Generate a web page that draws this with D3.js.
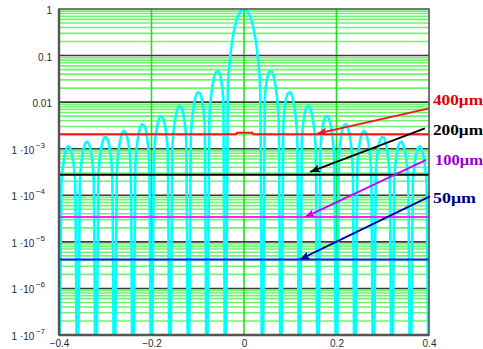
<!DOCTYPE html>
<html>
<head>
<meta charset="utf-8">
<script src="https://cdn.jsdelivr.net/npm/d3@7"></script>
<style>
  html, body { margin: 0; padding: 0; background: #fff; }
  svg { display: block; }
</style>
</head>
<body>
<svg id="chart" width="483" height="349"></svg>
<script>
// Normalised diffraction intensity, sampled from the centre outwards (x = 0 … 0.4, step 0.005).
// The pattern is symmetric, so the left half is the mirror of this one.
const intensityStep = 0.005;
const intensityRight = [
  1, 0.95, 0.81, 0.62, 0.41, 0.22, 0.09, 0.019, 0,
  0.0117, 0.032, 0.046, 0.045, 0.033, 0.0165, 0.0042, 0,
  0.0033, 0.010, 0.0153, 0.0162, 0.0126, 0.0067, 0.0018, 0,
  0.0015, 0.0048, 0.0076, 0.0083, 0.0066, 0.0036, 0.00099, 0,
  0.00087, 0.0028, 0.0045, 0.0050, 0.0040, 0.00225, 0.00062, 0,
  0.00056, 0.00184, 0.0030, 0.00335, 0.00273, 0.00153, 0.00043, 0,
  0.0004, 0.0013, 0.0021, 0.0024, 0.00197, 0.00111, 0.00031, 0,
  0.00029, 0.00096, 0.00159, 0.0018, 0.00149, 0.00084, 0.00024, 0,
  0.000225, 0.00074, 0.00123, 0.0014, 0.00116, 0.00066, 0.00019, 0,
  0.00018, 0.00059, 0.00098, 0.00112, 0.00093, 0.00053, 0.00015, 0
];

// Threshold levels for the four aperture sizes
const levelNames  = ["400\u03bcm", "200\u03bcm", "100\u03bcm", "50\u03bcm"];
const levelValues = [2.05e-3, 2.75e-4, 3.4e-5, 4.2e-6];
// The 400 µm level rises slightly around the centre
const redLevelX = [-0.4, -0.017, -0.015, 0.018, 0.020, 0.4];
const redLevelY = [2.05e-3, 2.05e-3, 2.2e-3, 2.2e-3, 2.05e-3, 2.05e-3];

// Arrow callouts: tail near the label, tip on the level line
const arrowTailX = [0.398, 0.391, 0.394, 0.402];
const arrowTailY = [7.3e-3, 2.73e-3, 5.75e-4, 9.5e-5];
const arrowTipX  = [0.158, 0.143, 0.132, 0.121];
const arrowTipY  = [2.1e-3, 3.18e-4, 3.4e-5, 4.2e-6];
const labelBaselineY = [8.7e-3, 1.93e-3, 4.5e-4, 6.9e-5];

// Axis ticks
const xTickValues = [-0.4, -0.2, 0, 0.2, 0.4];
const xTickLabels = ["\u22120.4", "\u22120.2", "0", "0.2", "0.4"];
const yTickValues = [1, 0.1, 0.01, 1e-3, 1e-4, 1e-5, 1e-6, 1e-7];
const yTickBase   = ["1", "0.1", "0.01", "1 \u00b710", "1 \u00b710", "1 \u00b710", "1 \u00b710", "1 \u00b710"];
const yTickExp    = ["", "", "", "\u22123", "\u22124", "\u22125", "\u22126", "\u22127"];
const xGridValues = [-0.2, 0, 0.2];

// ---- styles ----
const levelLineColors  = ["#ff1010", "#000000", "#ff22ff", "#1a1aff"];
const arrowColors      = ["#ff1010", "#000000", "#cc00ff", "#0000b0"];
const labelColors      = ["#e00000", "#000000", "#9400d3", "#000080"];
const labelWidths      = [50, 50, 48, 43];
const labelOffsets     = [4, 4, 6, 4];

const width = 483, height = 349;
const margin = { top: 9, right: 54, bottom: 14, left: 59 };
const innerW = width - margin.left - margin.right;
const innerH = height - margin.top - margin.bottom;

const svg = d3.select("#chart");
svg.append("rect").attr("width", width).attr("height", height).attr("fill", "#fff");

const x = d3.scaleLinear().domain([-0.4, 0.4]).range([margin.left, margin.left + innerW]);
const y = d3.scaleLog().domain([1e-7, 1]).range([margin.top + innerH, margin.top]);

const defs = svg.append("defs");
defs.append("clipPath").attr("id", "plotClip")
  .append("rect")
  .attr("x", margin.left).attr("y", margin.top)
  .attr("width", innerW).attr("height", innerH);

arrowColors.forEach((c, i) => {
  defs.append("marker")
    .attr("id", "arrow" + i)
    .attr("markerUnits", "userSpaceOnUse")
    .attr("viewBox", "0 0 10 8")
    .attr("refX", 10).attr("refY", 4)
    .attr("markerWidth", 10).attr("markerHeight", 8)
    .attr("orient", "auto")
    .append("path")
    .attr("d", "M0,0 L10,4 L0,8 L2.5,4 Z")
    .attr("fill", c);
});

// ---- minor grid (2..9 × each decade) ----
const minorVals = [];
for (let k = -7; k < 0; k++) {
  for (let m = 2; m <= 9; m++) minorVals.push(m * Math.pow(10, k));
}
const grid = svg.append("g");
grid.selectAll("line.minor").data(minorVals).join("line")
  .attr("class", "minor")
  .attr("x1", margin.left).attr("x2", margin.left + innerW)
  .attr("y1", d => y(d)).attr("y2", d => y(d))
  .attr("stroke", "#6cf56c").attr("stroke-width", 1.6);

grid.selectAll("line.vgrid").data(xGridValues).join("line")
  .attr("class", "vgrid")
  .attr("x1", d => x(d)).attr("x2", d => x(d))
  .attr("y1", margin.top).attr("y2", margin.top + innerH)
  .attr("stroke", "#22e022").attr("stroke-width", 1.6);

// ---- decade lines ----
grid.selectAll("line.major").data(yTickValues.slice(1, -1)).join("line")
  .attr("class", "major")
  .attr("x1", margin.left).attr("x2", margin.left + innerW)
  .attr("y1", d => y(d)).attr("y2", d => y(d))
  .attr("stroke", "#3a3a3a").attr("stroke-width", 1.6);

// ---- intensity curve ----
const rightPts = intensityRight.map((v, i) => [i * intensityStep, v]);
const leftPts = rightPts.slice(1).map(([px, v]) => [-px, v]).reverse();
const curvePts = leftPts.concat(rightPts);

const line = d3.line()
  .x(d => x(d[0]))
  .y(d => y(Math.max(d[1], 1e-9)))
  .curve(d3.curveMonotoneX);

const plot = svg.append("g").attr("clip-path", "url(#plotClip)");
plot.append("path")
  .datum(curvePts)
  .attr("d", line)
  .attr("fill", "none")
  .attr("stroke", "#00ffff")
  .attr("stroke-width", 2.6)
  .attr("stroke-linejoin", "round");

// ---- threshold levels ----
const straight = d3.line().x(d => x(d[0])).y(d => y(d[1]));
levelValues.forEach((v, i) => {
  const pts = i === 0
    ? redLevelX.map((px, j) => [px, redLevelY[j]])
    : [[-0.4, v], [0.4, v]];
  plot.append("path")
    .datum(pts)
    .attr("d", straight)
    .attr("fill", "none")
    .attr("stroke", levelLineColors[i])
    .attr("stroke-width", 2);
});

// ---- frame ----
svg.append("rect")
  .attr("x", margin.left).attr("y", margin.top)
  .attr("width", innerW).attr("height", innerH)
  .attr("fill", "none")
  .attr("stroke", "#555").attr("stroke-width", 1.6);
svg.append("line")
  .attr("x1", margin.left).attr("x2", margin.left)
  .attr("y1", margin.top).attr("y2", margin.top + innerH)
  .attr("stroke", "#555").attr("stroke-width", 2.4);
svg.append("line")
  .attr("x1", margin.left).attr("x2", margin.left + innerW)
  .attr("y1", margin.top + innerH).attr("y2", margin.top + innerH)
  .attr("stroke", "#555").attr("stroke-width", 2.4);

// ---- axes ----
const tickFont = "'Liberation Sans', Arial, sans-serif";

const xAxis = svg.append("g")
  .attr("transform", `translate(0,${margin.top + innerH})`)
  .call(d3.axisBottom(x).tickValues(xTickValues).tickSize(0)
    .tickFormat((d, i) => xTickLabels[i]));
xAxis.select(".domain").remove();
xAxis.selectAll("text")
  .attr("y", 11.5).attr("dy", 0)
  .attr("font-family", tickFont).attr("font-size", 10)
  .attr("fill", "#2a2a2a");

const yAxis = svg.append("g")
  .attr("transform", `translate(${margin.left},0)`)
  .call(d3.axisLeft(y).tickValues(yTickValues).tickSize(0).tickFormat(() => ""));
yAxis.select(".domain").remove();
yAxis.selectAll(".tick text").each(function (d, i) {
  const t = d3.select(this)
    .attr("font-family", tickFont).attr("font-size", 10)
    .attr("fill", "#2a2a2a")
    .attr("text-anchor", "end")
    .attr("dy", 0);
  if (yTickExp[i]) {
    t.attr("x", -14).attr("y", 4.5);
    t.append("tspan").text(yTickBase[i]);
    t.append("tspan").attr("dy", -6).attr("dx", 1.5).attr("font-size", 8).text(yTickExp[i]);
  } else {
    t.attr("x", -7).attr("y", 4.5).text(yTickBase[i]);
  }
});

// ---- callouts ----
levelNames.forEach((name, i) => {
  svg.append("line")
    .attr("x1", x(arrowTailX[i])).attr("y1", y(arrowTailY[i]))
    .attr("x2", x(arrowTipX[i])).attr("y2", y(arrowTipY[i]))
    .attr("stroke", arrowColors[i]).attr("stroke-width", 1.8)
    .attr("marker-end", `url(#arrow${i})`);
  svg.append("text")
    .attr("x", x(0.4) + labelOffsets[i])
    .attr("y", y(labelBaselineY[i]))
    .attr("font-family", "'Liberation Serif', 'Times New Roman', serif")
    .attr("font-weight", "bold")
    .attr("font-size", 14)
    .attr("textLength", labelWidths[i])
    .attr("lengthAdjust", "spacingAndGlyphs")
    .attr("fill", labelColors[i])
    .text(name);
});
</script>
</body>
</html>
